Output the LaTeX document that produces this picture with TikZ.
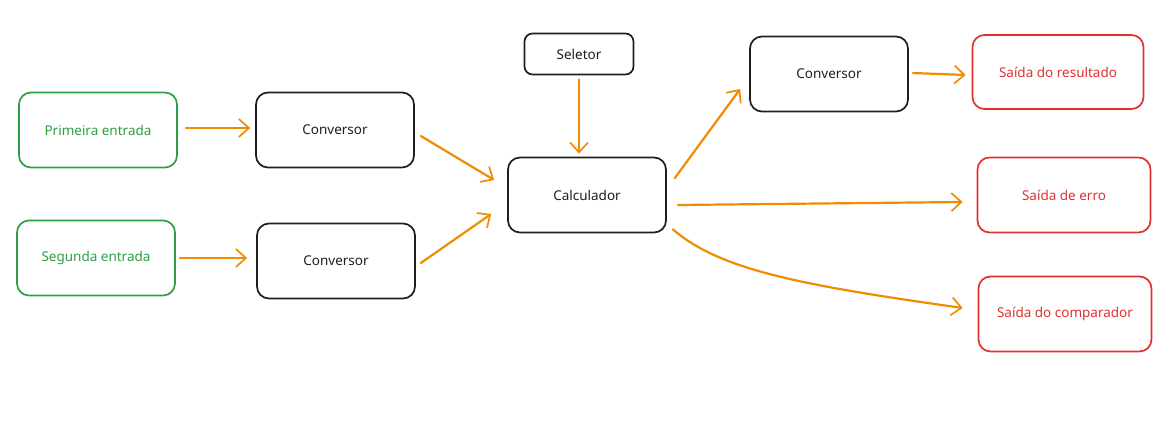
\documentclass[tikz,border=0pt]{standalone}
\usepackage{fontspec}
\setmainfont{Noto Sans}
\usetikzlibrary{arrows.meta,calc}
\definecolor{boxgreen}{HTML}{2F9E44}
\definecolor{boxblack}{HTML}{1E1E1E}
\definecolor{arroworange}{HTML}{F08C00}
\definecolor{boxred}{HTML}{E03131}
\tikzset{
  basebox/.style={draw, rounded corners=12pt, line width=1.7pt, minimum width=158pt, minimum height=75pt, inner sep=0pt, font=\fontsize{13.5}{16}\selectfont},
  inbox/.style={basebox, draw=boxgreen, text=boxgreen},
  procbox/.style={basebox, draw=boxblack, text=boxblack},
  outbox/.style={basebox, draw=boxred, text=boxred},
  flow/.style={draw=arroworange, line width=2.2pt, line cap=round, -{Straight Barb[length=10pt,width=18pt,line width=1.7pt]}}
}
\begin{document}
\begin{tikzpicture}[x=1pt,y=-1pt]
\useasboundingbox (0,0) rectangle (1175,427);
\node[inbox] (p) at (98,130) {Primeira entrada};
\node[inbox] (s) at (96,258) {Segunda entrada};
\node[procbox] (c1) at (335,130) {Conversor};
\node[procbox] (c2) at (336,261) {Conversor};
\node[procbox, minimum width=109pt, minimum height=41pt, rounded corners=8pt] (sel) at (579,54) {Seletor};
\node[procbox] (calc) at (587,195) {Calculador};
\node[procbox] (c3) at (829,74) {Conversor};
\node[outbox, minimum width=171pt, minimum height=74pt] (res) at (1058,72) {Saída do resultado};
\node[outbox, minimum width=173pt] (err) at (1064,195) {Saída de erro};
\node[outbox, minimum width=173pt] (comp) at (1065,314) {Saída do comparador};

\draw[flow] ($(p.east)+(8,-2)$) -- ($(c1.west)+(-5,-2)$);
\draw[flow] ($(s.east)+(4,0)$) -- ($(c2.west)+(-9,-3)$);
\draw[flow] ($(c1.east)+(6,6)$) -- ($(calc.west)+(-13,-15)$);
\draw[flow] ($(c2.east)+(5,2)$) -- ($(calc.west)+(-16,19)$);
\draw[flow] ($(sel.south)+(0,4)$) -- ($(calc.north)+(-8,-3)$);
\draw[flow] ($(calc.east)+(8,-17)$) -- ($(c3.west)+(-9,15)$);
\draw[flow] ($(c3.east)+(4,-1)$) -- ($(res.west)+(-6,3)$);
\draw[flow] ($(calc.east)+(11,10)$) -- ($(err.west)+(-14,7)$);
\draw[flow] ($(calc.south east)+(6,-4)$) .. controls (720,270) and (800,285) .. ($(comp.west)+(-15,-6)$);
\end{tikzpicture}
\end{document}
